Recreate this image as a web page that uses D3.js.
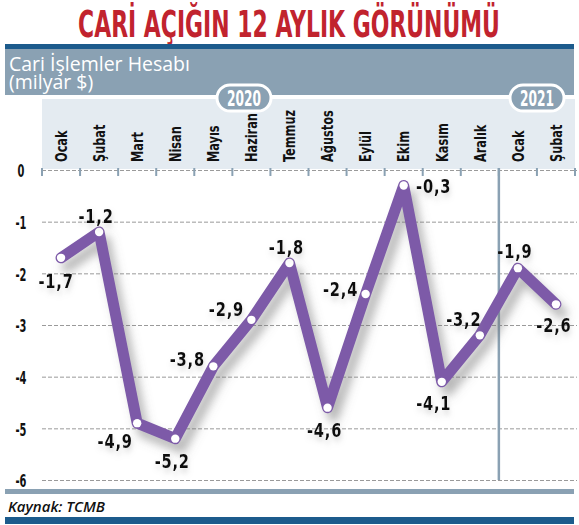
<!DOCTYPE html>
<html>
<head>
<meta charset="utf-8">
<script src="https://cdnjs.cloudflare.com/ajax/libs/d3/7.8.5/d3.min.js"></script>
<style>
  body { margin: 0; background: #fff; }
  svg { display: block; }
  .narrow { font-family: 'Liberation Sans Narrow', 'DejaVu Sans Condensed', 'DejaVu Sans', sans-serif; font-stretch: condensed; font-weight: bold; }
</style>
</head>
<body>
<svg id="chart"></svg>
<script>
// data
var months = ["Ocak", "Şubat", "Mart", "Nisan", "Mayıs", "Haziran", "Temmuz",
              "Ağustos", "Eylül", "Ekim", "Kasım", "Aralık", "Ocak", "Şubat"];
var years = ["2020", "2020", "2020", "2020", "2020", "2020", "2020",
             "2020", "2020", "2020", "2020", "2020", "2021", "2021"];
var values = [-1.7, -1.2, -4.9, -5.2, -3.8, -2.9, -1.8, -4.6, -2.4, -0.3, -4.1, -3.2, -1.9, -2.6];
var yTicks = [0, -1, -2, -3, -4, -5, -6];
var yearLabels = ["2020", "2021"];

var title = "CARİ AÇIĞIN 12 AYLIK GÖRÜNÜMÜ";
var subtitle = ["Cari İşlemler Hesabı", "(milyar $)"];
var source = "Kaynak: TCMB";

// label placement relative to each point (layout only)
var labelOffsets = [[-5, 30], [-3, -9], [-22, 25], [-3, 29], [-26, 0], [-25, -4], [-3, -9],
                    [-3, 29], [-25, 2], [30, 7], [-8, 28], [-16, -9], [-3, -10], [-2, 28]];

var width = 579, height = 525;
var purple = "#7d5aa8", greyBlue = "#8aa1b3", darkBlue = "#1c5b8c", red = "#c1232e";

var svg = d3.select("#chart").attr("width", width).attr("height", height);

// no narrow font installed: measure a sample and squeeze horizontally
function squeeze(sample, size, target) {
    var t = svg.append("text").attr("class", "narrow").style("font-size", size + "px").text(sample);
    var w = t.node().getComputedTextLength();
    t.remove();
    return Math.min(1, target / w);
}

var defs = svg.append("defs");
var shadow = defs.append("filter").attr("id", "shadow")
    .attr("x", "-20%").attr("y", "-20%").attr("width", "140%").attr("height", "150%");
shadow.append("feDropShadow")
    .attr("dx", 6).attr("dy", 9).attr("stdDeviation", 5)
    .attr("flood-color", "#6f6f6f").attr("flood-opacity", 0.5);
var glow = defs.append("filter").attr("id", "glow")
    .attr("x", "-30%").attr("y", "-30%").attr("width", "160%").attr("height", "180%");
glow.append("feDropShadow")
    .attr("dx", 1).attr("dy", 4).attr("stdDeviation", 3)
    .attr("flood-color", "#999").attr("flood-opacity", 0.4);

// title
var kTitle = squeeze(title, 37, 422);
svg.append("text")
    .attr("class", "narrow")
    .attr("transform", "translate(289,37) scale(" + kTitle + ",1)")
    .attr("text-anchor", "middle")
    .style("font-size", "37px")
    .style("fill", red)
    .text(title);

// header band
svg.append("rect").attr("x", 5).attr("y", 44).attr("width", 569).attr("height", 5).style("fill", darkBlue);
svg.append("rect").attr("x", 5).attr("y", 49).attr("width", 569).attr("height", 46).style("fill", greyBlue);
svg.selectAll(".sub").data(subtitle).enter().append("text")
    .attr("class", "sub")
    .attr("x", 9).attr("y", function(d, i) { return 71 + i * 18; })
    .style("font-family", "'Open Sans', sans-serif")
    .style("font-size", "19.5px")
    .style("fill", "#fff")
    .text(function(d) { return d; });

// scales
var x = d3.scaleBand().domain(d3.range(months.length)).range([42, 575]);
var y = d3.scaleLinear().domain([-6, 0]).range([480, 170]);

// month panel
svg.append("rect").attr("x", 42).attr("y", 99).attr("width", 533).attr("height", 70).style("fill", "#e4ebf1");

// gridlines
svg.append("g")
    .attr("transform", "translate(42,0)")
    .call(d3.axisLeft(y).tickValues(yTicks).tickSize(-535).tickFormat(""))
    .call(function(g) { g.select(".domain").remove(); })
    .selectAll("line")
    .style("stroke", "#9a9a9a")
    .style("stroke-dasharray", "4,2")
    .style("stroke-width", 1);

// y labels
var kY = squeeze("-1", 18, 11);
svg.append("g")
    .attr("transform", "translate(21,0)")
    .call(d3.axisLeft(y).tickValues(yTicks).tickSize(0).tickPadding(0).tickFormat(function(d) { return String(d); }))
    .call(function(g) { g.select(".domain").remove(); })
    .selectAll("text")
    .attr("class", "narrow")
    .attr("x", 0)
    .attr("transform", "scale(" + kY + ",1)")
    .attr("text-anchor", "middle")
    .attr("dy", "0.38em")
    .style("font-size", "18px")
    .style("fill", "#111");

// month ticks at band boundaries
var bounds = d3.range(months.length + 1).map(function(i) { return 42 + i * x.step(); });
svg.selectAll(".mtick").data(bounds).enter().append("line")
    .attr("class", "mtick")
    .attr("x1", function(d) { return d; }).attr("x2", function(d) { return d; })
    .attr("y1", 168).attr("y2", 176)
    .style("stroke", greyBlue).style("stroke-width", 2);

// separator between years
svg.append("line")
    .attr("x1", bounds[12]).attr("x2", bounds[12])
    .attr("y1", 168).attr("y2", 480)
    .style("stroke", greyBlue).style("stroke-width", 2.5);

// month labels
var kM = squeeze("Haziran", 16, 49);
var xAxis = svg.append("g")
    .attr("transform", "translate(0,162)")
    .call(d3.axisBottom(x).tickSize(0).tickFormat(function(i) { return months[i]; }));
xAxis.select(".domain").remove();
xAxis.selectAll("text")
    .attr("class", "narrow")
    .attr("transform", "rotate(-90) scale(" + kM + ",1)")
    .attr("text-anchor", "start")
    .attr("x", 0).attr("y", 0)
    .attr("dy", "0.36em")
    .style("font-size", "16px")
    .style("fill", "#111");

// year pills
var pillX = [244, 537];
var kP = squeeze("2020", 21, 34);
var pills = svg.selectAll(".pill").data(yearLabels).enter().append("g")
    .attr("class", "pill")
    .attr("transform", function(d, i) { return "translate(" + pillX[i] + ",98)"; });
pills.append("rect")
    .attr("x", -27).attr("y", -13).attr("width", 54).attr("height", 26)
    .attr("rx", 13).attr("ry", 13)
    .style("fill", greyBlue).style("stroke", "#fff").style("stroke-width", 3);
pills.append("text")
    .attr("class", "narrow")
    .attr("transform", "scale(" + kP + ",1)")
    .attr("text-anchor", "middle").attr("dy", "0.37em")
    .style("font-size", "21px").style("fill", "#fff")
    .text(function(d) { return d; });

// line
var line = d3.line()
    .x(function(d, i) { return x(i) + x.bandwidth() / 2; })
    .y(function(d) { return y(d); });

svg.append("path")
    .datum(values)
    .attr("d", line)
    .attr("filter", "url(#shadow)")
    .style("fill", "none")
    .style("stroke", purple)
    .style("stroke-width", 11)
    .style("stroke-linejoin", "round")
    .style("stroke-linecap", "round");

svg.selectAll(".dot").data(values).enter().append("circle")
    .attr("class", "dot")
    .attr("cx", function(d, i) { return x(i) + x.bandwidth() / 2; })
    .attr("cy", function(d) { return y(d); })
    .attr("r", 4.2)
    .style("fill", "#fff");

// value labels
var kV = squeeze("-1,2", 20, 32);
svg.selectAll(".vlabel").data(values).enter().append("g")
    .attr("class", "vlabel")
    .attr("transform", function(d, i) {
        return "translate(" + (x(i) + x.bandwidth() / 2 + labelOffsets[i][0]) + "," + (y(d) + labelOffsets[i][1]) + ")";
    })
    .append("text")
    .attr("class", "narrow")
    .attr("transform", "scale(" + kV + ",1)")
    .attr("text-anchor", "middle")
    .attr("filter", "url(#glow)")
    .style("font-size", "20px")
    .style("letter-spacing", "1px")
    .style("fill", "#111")
    .text(function(d) { return String(d).replace(".", ","); });

// footer
svg.append("rect").attr("x", 5).attr("y", 489).attr("width", 569).attr("height", 5).style("fill", greyBlue);
svg.append("text")
    .attr("x", 8).attr("y", 512)
    .style("font-family", "'Open Sans', sans-serif")
    .style("font-style", "italic").style("font-weight", 600)
    .style("font-size", "15px").style("fill", "#111")
    .text(source);
svg.append("rect").attr("x", 5).attr("y", 517).attr("width", 569).attr("height", 7).style("fill", darkBlue);
</script>
</body>
</html>
